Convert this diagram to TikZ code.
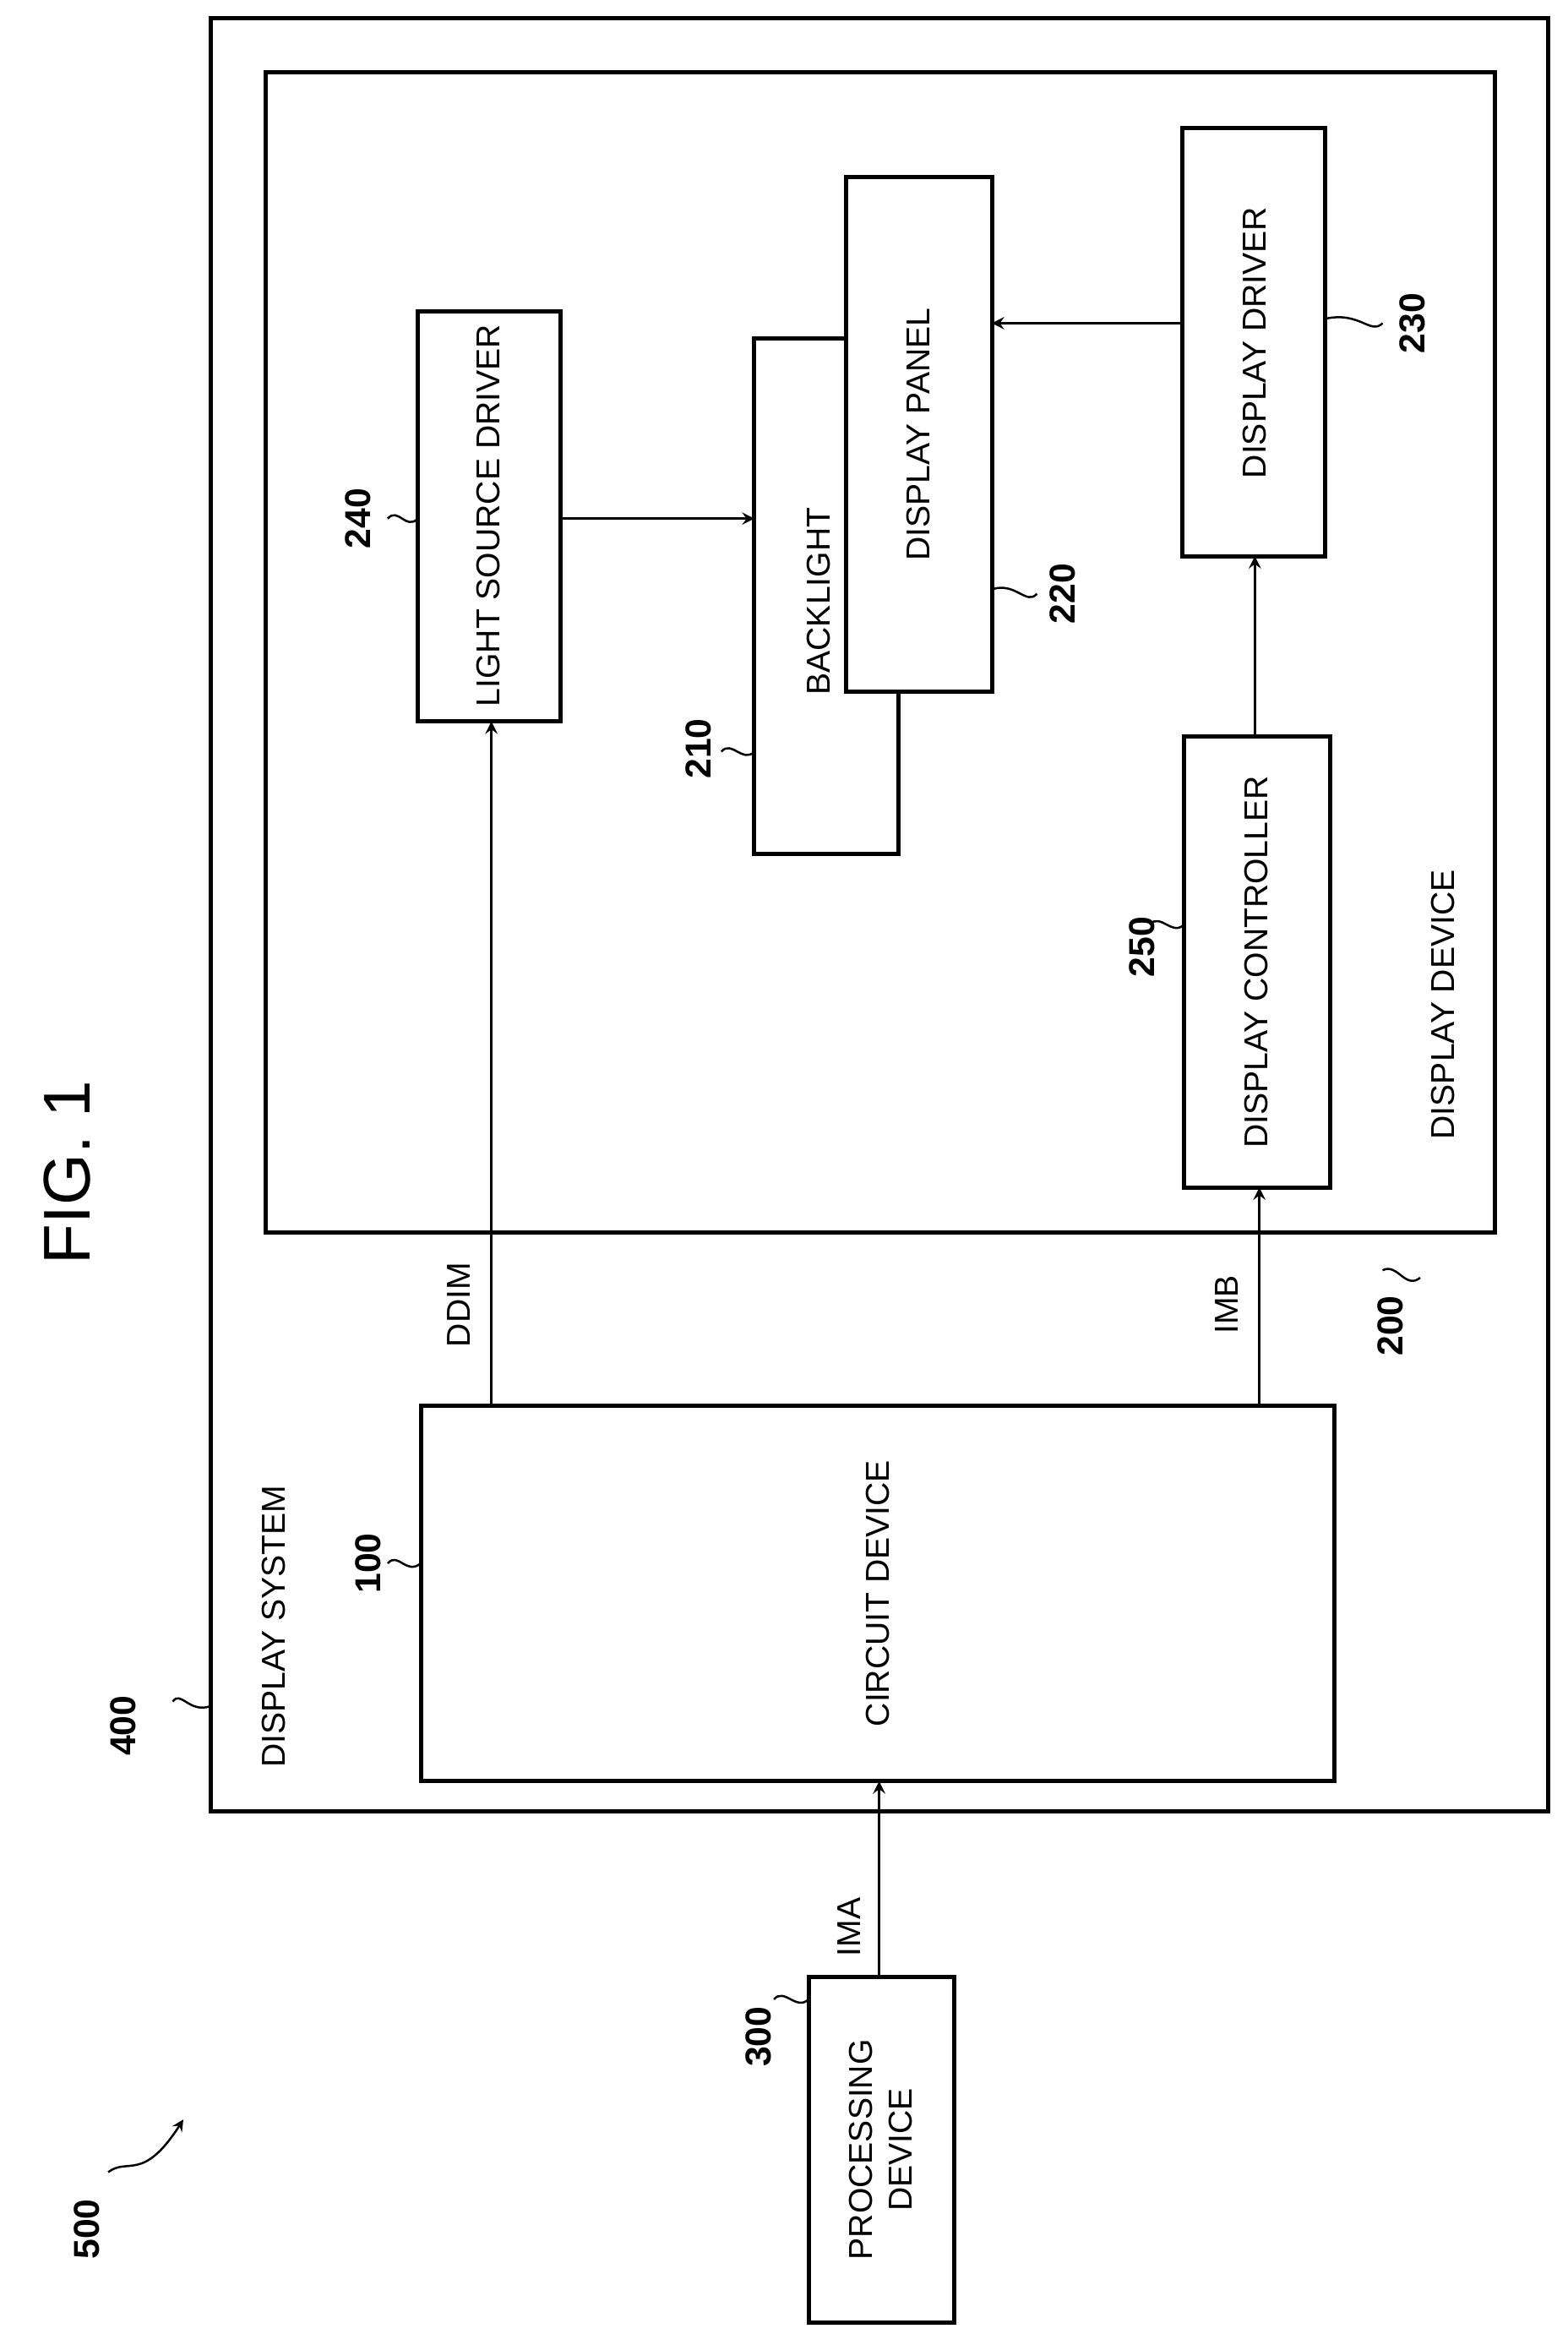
\documentclass[tikz,border=0pt]{standalone}
\usepackage{fontspec}
\setmainfont{Liberation Sans}
\begin{document}
\begin{tikzpicture}[x=0.5pt,y=-0.5pt,
  box/.style={draw,line width=1.4pt,fill=white},
  lab/.style={rotate=90,font=\fontsize{11}{13}\selectfont},
  num/.style={rotate=90,font=\bfseries\fontsize{12}{14}\selectfont},
  arr/.style={->,line width=0.8pt,>=stealth},
  sq/.style={line width=0.7pt}]
\useasboundingbox (0,0) rectangle (1043,1560);
\draw[box] (140,12) rectangle (1030,1205);
\draw[box] (177,48) rectangle (995,820);
\draw[box] (278,207) rectangle (373,480);
\node[lab] (t240) at (325,343) {LIGHT SOURCE DRIVER};
\draw[box] (502,225) rectangle (598,568);
\node[lab] (t210) at (545,400) {BACKLIGHT};
\draw[box] (563,118) rectangle (660,460);
\node[lab] (t220) at (611,289) {DISPLAY PANEL};
\draw[box] (787,85) rectangle (882,370);
\node[lab] (t230) at (835,228) {DISPLAY DRIVER};
\draw[box] (788,490) rectangle (885,790);
\node[lab] (t250) at (836,640) {DISPLAY CONTROLLER};
\draw[box] (280,935) rectangle (888,1185);
\node[lab] (t100) at (584,1060) {CIRCUIT DEVICE};
\draw[box] (538,1315) rectangle (635,1545);
\node[lab,align=center] (t300) at (586,1430) {PROCESSING\\DEVICE};
\coordinate (a1) at (373,345); \coordinate (a2) at (502,345);
\draw[arr] (a1) -- (a2);
\coordinate (b1) at (787,215); \coordinate (b2) at (660,215);
\draw[arr] (b1) -- (b2);
\coordinate (c1) at (835,490); \coordinate (c2) at (835,370);
\draw[arr] (c1) -- (c2);
\coordinate (d1) at (327,935); \coordinate (d2) at (327,480);
\draw[arr] (d1) -- (d2);
\coordinate (e1) at (838,935); \coordinate (e2) at (838,790);
\draw[arr] (e1) -- (e2);
\coordinate (f1) at (585,1315); \coordinate (f2) at (585,1185);
\draw[arr] (f1) -- (f2);
\node[lab] (ddim) at (305,868) {DDIM};
\node[lab] (imb) at (816,868) {IMB};
\node[lab] (ima) at (565,1282) {IMA};
\node[lab,anchor=west] (ds) at (182,1183) {DISPLAY SYSTEM};
\node[lab,anchor=west] (dd) at (960,765) {DISPLAY DEVICE};
\node[rotate=90,font=\fontsize{22}{26}\selectfont] (fig) at (45,780) {FIG. 1};
\node[num] (n400) at (82,1148) {400};
\node[num] (n100) at (245,1040) {100};
\node[num] (n200) at (925,882) {200};
\node[num] (n240) at (238,345) {240};
\node[num] (n210) at (465,498) {210};
\node[num] (n220) at (707,395) {220};
\node[num] (n230) at (940,215) {230};
\node[num] (n250) at (760,630) {250};
\node[num] (n300) at (505,1355) {300};
\node[num] (n500) at (58,1483) {500};
\draw[sq] (115,1132) .. controls (120,1124) and (126,1140) .. (140,1135);
\draw[sq] (258,1040) .. controls (265,1032) and (270,1048) .. (280,1040);
\draw[sq] (945,850) .. controls (935,858) and (930,840) .. (920,845) -- (920,845);
\draw[sq] (258,345) .. controls (265,337) and (270,353) .. (278,345);
\draw[sq] (480,500) .. controls (487,492) and (494,508) .. (502,500);
\draw[sq] (690,395) .. controls (683,403) and (676,387) .. (660,392);
\draw[sq] (920,215) .. controls (912,223) and (905,207) .. (882,212);
\draw[sq] (765,615) .. controls (772,607) and (780,623) .. (788,615);
\draw[sq] (515,1330) .. controls (522,1322) and (530,1338) .. (538,1330);
\draw[sq,->,>=stealth] (72,1445) .. controls (85,1435) and (95,1452) .. (122,1410);
\end{tikzpicture}
\end{document}
